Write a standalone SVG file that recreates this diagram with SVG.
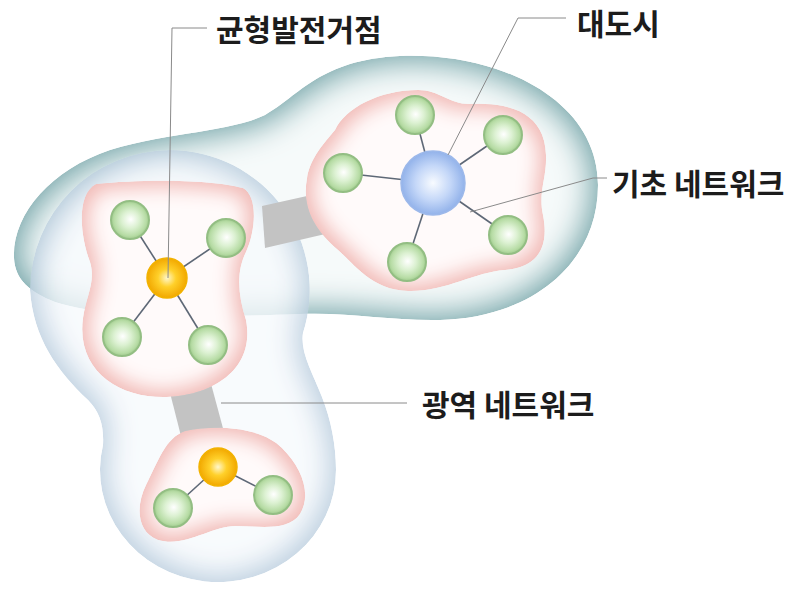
<svg xmlns="http://www.w3.org/2000/svg" width="801" height="589" viewBox="0 0 801 589">
<style>
.lbl{font-family:"Noto Sans CJK KR","Noto Sans",sans-serif;font-weight:700;font-size:30px;fill:#1c1c1c}
.lead{fill:none;stroke:#8a8a8a;stroke-width:1}
.spoke{stroke:#5e6876;stroke-width:1.6}
.bridge{fill:#c3c3c3}
.green{fill:url(#gGreen);stroke:#93be83;stroke-width:2}
.yellow{fill:url(#gYellow);stroke:#f2b200;stroke-width:1.5}
.bluen{fill:url(#gBlue);stroke:#9cb8ea;stroke-width:1.5}
</style>
<defs>
<filter id="igTeal" x="-5%" y="-5%" width="110%" height="110%" color-interpolation-filters="sRGB">
<feMorphology in="SourceAlpha" operator="erode" radius="5" result="er"/>
<feGaussianBlur in="er" stdDeviation="16" result="bl"/>
<feFlood flood-color="#f6fafa"/>
<feComposite in2="bl" operator="in" result="glow"/>
<feMerge result="m"><feMergeNode in="SourceGraphic"/><feMergeNode in="glow"/></feMerge>
<feComposite in="m" in2="SourceAlpha" operator="in"/>
</filter>
<filter id="igBlue" x="-5%" y="-5%" width="110%" height="110%" color-interpolation-filters="sRGB">
<feMorphology in="SourceAlpha" operator="erode" radius="6" result="er"/>
<feGaussianBlur in="er" stdDeviation="14" result="bl"/>
<feFlood flood-color="#f7fafd"/>
<feComposite in2="bl" operator="in" result="glow"/>
<feMerge result="m"><feMergeNode in="SourceGraphic"/><feMergeNode in="glow"/></feMerge>
<feComposite in="m" in2="SourceAlpha" operator="in"/>
</filter>
<filter id="igPink" x="-5%" y="-5%" width="110%" height="110%" color-interpolation-filters="sRGB">
<feMorphology in="SourceAlpha" operator="erode" radius="6" result="er"/>
<feGaussianBlur in="er" stdDeviation="10" result="bl"/>
<feFlood flood-color="#fffafa"/>
<feComposite in2="bl" operator="in" result="glow"/>
<feMerge result="m"><feMergeNode in="SourceGraphic"/><feMergeNode in="glow"/></feMerge>
<feComposite in="m" in2="SourceAlpha" operator="in"/>
</filter>
<radialGradient id="gGreen" cx="50%" cy="50%" r="50%" fx="52%" fy="48%">
<stop offset="0" stop-color="#ffffff"/>
<stop offset="0.45" stop-color="#dcf1d2"/>
<stop offset="0.85" stop-color="#b7dca5"/>
<stop offset="1" stop-color="#9fca8d"/>
</radialGradient>
<radialGradient id="gYellow" cx="50%" cy="50%" r="50%" fx="50%" fy="50%">
<stop offset="0" stop-color="#fff7cc"/>
<stop offset="0.45" stop-color="#ffd02a"/>
<stop offset="1" stop-color="#f2a800"/>
</radialGradient>
<radialGradient id="gBlue" cx="50%" cy="50%" r="50%" fx="50%" fy="50%">
<stop offset="0" stop-color="#f8fbff"/>
<stop offset="0.55" stop-color="#c4d7f8"/>
<stop offset="1" stop-color="#92b2ea"/>
</radialGradient>
</defs>
<rect width="801" height="589" fill="#ffffff"/>

<g id="metro-region">
<path filter="url(#igTeal)" fill="#6fa1a5" d="M14,258 C12,215 50,170 110,150 C170,132 230,132 265,115 C300,95 320,60 400,56 C500,52 598,100 598,185 C598,265 530,318 440,320 C390,321 350,312 300,314 C220,317 110,320 55,302 C30,292 15,280 14,258 Z"/>
</g>

<g id="wide-region" opacity="0.78">
<path filter="url(#igBlue)" fill="#aac2d7" d="M170,150 A140,140 0 0 1 303,333 C300,352 312,372 322,397 C331,420 336,445 336,470 A118,112 0 1 1 103,445 C104,426 100,412 88,400 C58,372 33,338 30,290 A140,140 0 0 1 170,150 Z"/>
</g>

<g id="connectors">
<polygon class="bridge" points="262,206 334,190 334,232 265,248"/>
<polygon class="bridge" points="168,385 210,380 224,432 182,440"/>
</g>

<g id="cluster-left">
<path filter="url(#igPink)" fill="#f1b9b5" d="M96,184 C140,179 210,179 243,188 C258,196 256,230 246,252 C236,272 238,295 246,320 C256,372 208,397 163,397 C118,397 76,370 83,318 C86,296 96,282 90,262 C80,236 76,194 96,184 Z"/>
</g>
<g id="cluster-right">
<path filter="url(#igPink)" fill="#f1b9b5" d="M335,130 C345,108 380,90 418,90 C440,90 448,104 470,104 C505,102 545,110 546,155 C547,178 538,192 543,215 C550,250 535,268 505,270 C475,272 445,292 408,291 C372,290 355,265 338,250 C312,228 302,205 307,178 C310,158 325,142 335,130 Z"/>
</g>
<g id="cluster-bottom">
<path filter="url(#igPink)" fill="#f1b9b5" d="M185,431 C220,424 262,428 282,448 C302,468 312,494 300,514 C288,532 258,526 236,526 C210,526 186,548 158,540 C136,532 136,505 146,485 C158,462 165,438 185,431 Z"/>
</g>

<g id="spokes">
<line class="spoke" x1="167" y1="278" x2="130" y2="220"/>
<line class="spoke" x1="167" y1="278" x2="226" y2="238"/>
<line class="spoke" x1="167" y1="278" x2="122" y2="337"/>
<line class="spoke" x1="167" y1="278" x2="208" y2="345"/>
<line class="spoke" x1="433" y1="183" x2="415" y2="115"/>
<line class="spoke" x1="433" y1="183" x2="503" y2="135"/>
<line class="spoke" x1="433" y1="183" x2="343" y2="173"/>
<line class="spoke" x1="433" y1="183" x2="508" y2="235"/>
<line class="spoke" x1="433" y1="183" x2="407" y2="262"/>
<line class="spoke" x1="218" y1="467" x2="173" y2="508"/>
<line class="spoke" x1="218" y1="467" x2="273" y2="495"/>
</g>

<g id="node-l1"><circle class="green" cx="130" cy="220" r="19"/></g>
<g id="node-l2"><circle class="green" cx="226" cy="238" r="19"/></g>
<g id="node-l3"><circle class="green" cx="122" cy="337" r="19"/></g>
<g id="node-l4"><circle class="green" cx="208" cy="345" r="19"/></g>
<g id="hub-left"><circle class="yellow" cx="167" cy="278" r="20"/></g>

<g id="node-r1"><circle class="green" cx="415" cy="115" r="19"/></g>
<g id="node-r2"><circle class="green" cx="503" cy="135" r="19"/></g>
<g id="node-r3"><circle class="green" cx="343" cy="173" r="19"/></g>
<g id="node-r4"><circle class="green" cx="508" cy="235" r="19"/></g>
<g id="node-r5"><circle class="green" cx="407" cy="262" r="19"/></g>
<g id="hub-metro"><circle class="bluen" cx="433" cy="183" r="32"/></g>

<g id="node-b1"><circle class="green" cx="173" cy="508" r="19"/></g>
<g id="node-b2"><circle class="green" cx="273" cy="495" r="19"/></g>
<g id="hub-bottom"><circle class="yellow" cx="218" cy="467" r="19"/></g>

<g id="leaders">
<polyline class="lead" points="207,28 172,28 168,278"/>
<polyline class="lead" points="566,18 518,18 448,155"/>
<polyline class="lead" points="607,178 593,178 470,212"/>
<polyline class="lead" points="221,403 407,403"/>
</g>

<g id="labels">
<text class="lbl" x="216" y="41">균형발전거점</text>
<text class="lbl" x="577" y="35">대도시</text>
<text class="lbl" x="612" y="195">기초 네트워크</text>
<text class="lbl" x="422" y="416">광역 네트워크</text>
</g>
</svg>
